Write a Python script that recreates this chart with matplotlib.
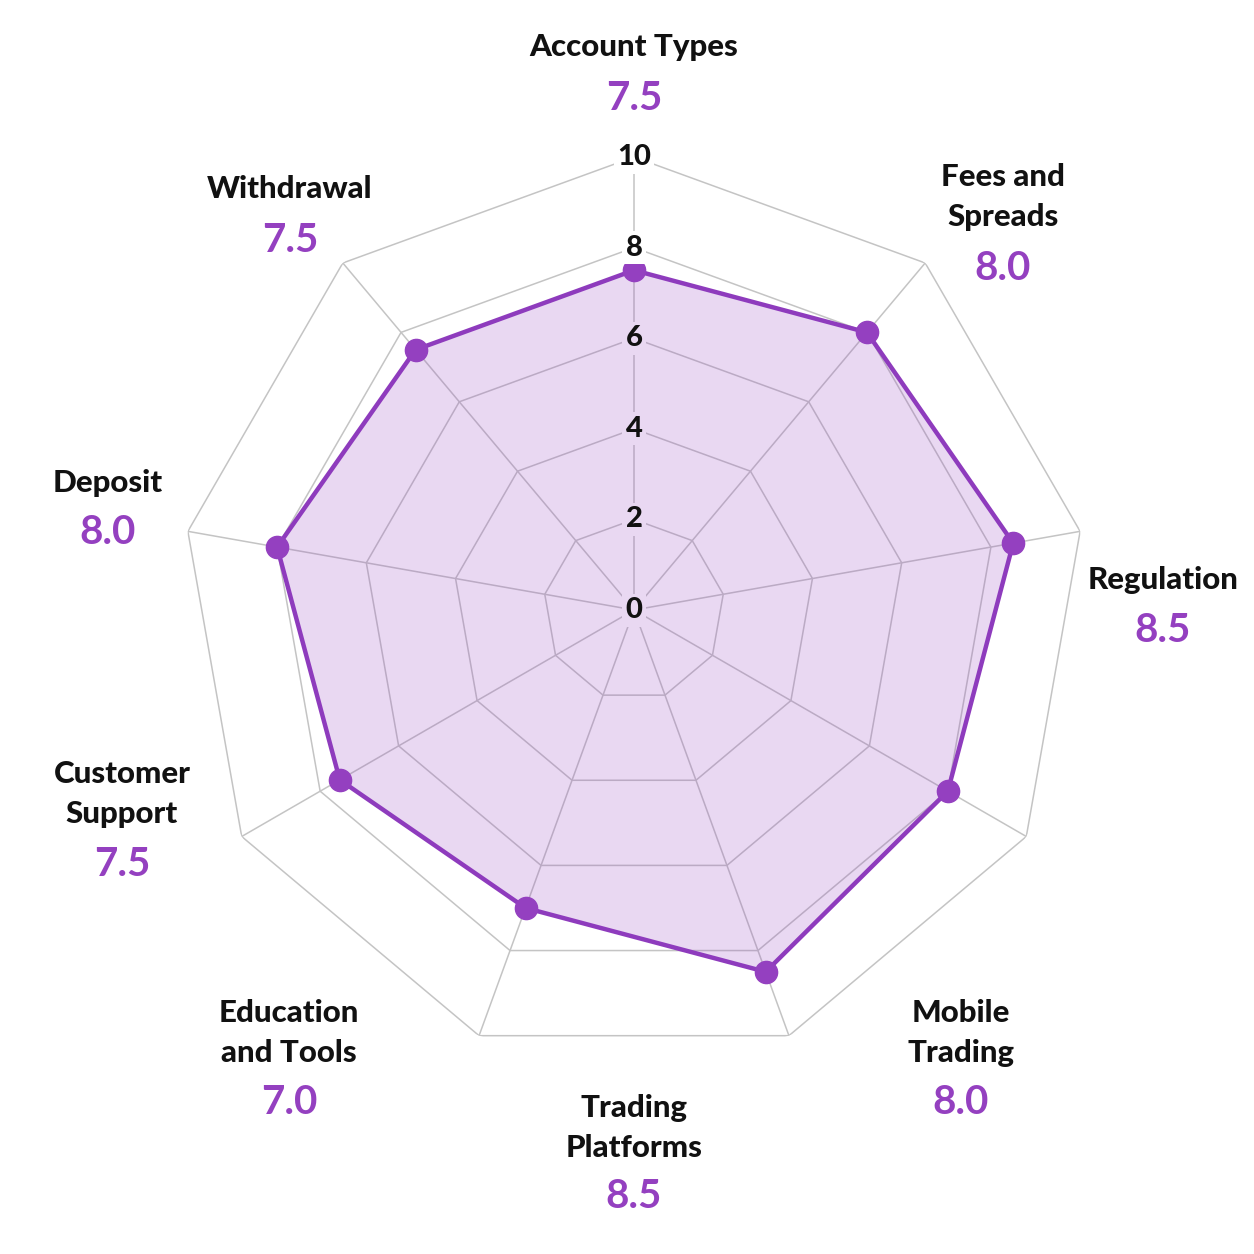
import numpy as np
import matplotlib
matplotlib.use("Agg")
import matplotlib.pyplot as plt
from matplotlib.colors import to_rgb

# ---------------- data ----------------
categories = ["Account Types", "Fees and\nSpreads", "Regulation", "Mobile\nTrading",
              "Trading\nPlatforms", "Education\nand Tools", "Customer\nSupport",
              "Deposit", "Withdrawal"]
scores = [7.5, 8.0, 8.5, 8.0, 8.5, 7.0, 7.5, 8.0, 7.5]
r_ticks = [0, 2, 4, 6, 8, 10]
r_tick_labels = ["0", "2", "4", "6", "8", "10"]

# ---------------- layout / style ----------------
W = H = 1254
DPI = 100
cx, cy, R = 634, 610, 453          # centre and outer radius in pixels
# label block anchors (pixels from top-left): name centre, value centre
name_xy = [(634, 47), (1003, 197), (1163, 580), (961, 1033), (634, 1128),
           (289, 1033), (122, 794), (108, 483), (290, 189)]
value_y = [98, 268, 630, 1103, 1196, 1103, 865, 533, 240]

FONT = ["Lato", "DejaVu Sans"]
GRID_C = "#c4c4c4"
FILL_C = "#9b4fc4"
FILL_A = 0.22
LINE_C = "#8e3bbd"
VAL_C = "#9440c0"

fig = plt.figure(figsize=(W / DPI, H / DPI), dpi=DPI)
fig.patch.set_facecolor("white")
ax = fig.add_axes([(cx - R) / W, (H - cy - R) / H, 2 * R / W, 2 * R / H],
                  projection="polar")
ax.set_theta_offset(np.pi / 2)
ax.set_theta_direction(-1)
ax.set_ylim(0, r_ticks[-1])
ax.grid(False)
ax.spines["polar"].set_visible(False)
ax.set_xticks([])
ax.set_yticks([])
ax.patch.set_alpha(0)

n = len(categories)
theta = np.arange(n) * 2 * np.pi / n
theta_c = np.append(theta, theta[0])

# polygonal grid
for t in r_ticks[1:]:
    ax.plot(theta_c, [t] * (n + 1), color=GRID_C, lw=1.1, zorder=1)
for th in theta:
    ax.plot([th, th], [0, r_ticks[-1]], color=GRID_C, lw=1.1, zorder=1)

vals = np.append(scores, scores[0])
ax.fill(theta_c, vals, color=FILL_C, alpha=FILL_A, lw=0, zorder=2)
ax.plot(theta_c, vals, color=LINE_C, lw=3.2, zorder=3)
ax.plot(theta, scores, "o", color=VAL_C, ms=16, zorder=4)

# radial tick labels along the top spoke
fc = np.array(to_rgb(FILL_C))
inside_bg = tuple(1 - FILL_A * (1 - fc))
for t, lab in zip(r_ticks, r_tick_labels):
    bg = inside_bg if t < scores[0] else "white"
    ax.text(0, t, lab, ha="center", va="center", fontsize=21, fontweight="black",
            family=FONT, color="#111111", zorder=5,
            bbox=dict(boxstyle="square,pad=0.12", fc=bg, ec="none"))

# category names and values
for cat, (x, y), vy, s in zip(categories, name_xy, value_y, scores):
    fig.text(x / W, 1 - y / H, cat, ha="center", va="center", fontsize=22.5,
             fontweight="black", family=FONT, color="#111111", linespacing=1.5)
    fig.text(x / W, 1 - vy / H, f"{s:.1f}", ha="center", va="center",
             fontsize=29, fontweight="bold", family=FONT, color=VAL_C)

fig.savefig("out.png", dpi=DPI, facecolor="white")
